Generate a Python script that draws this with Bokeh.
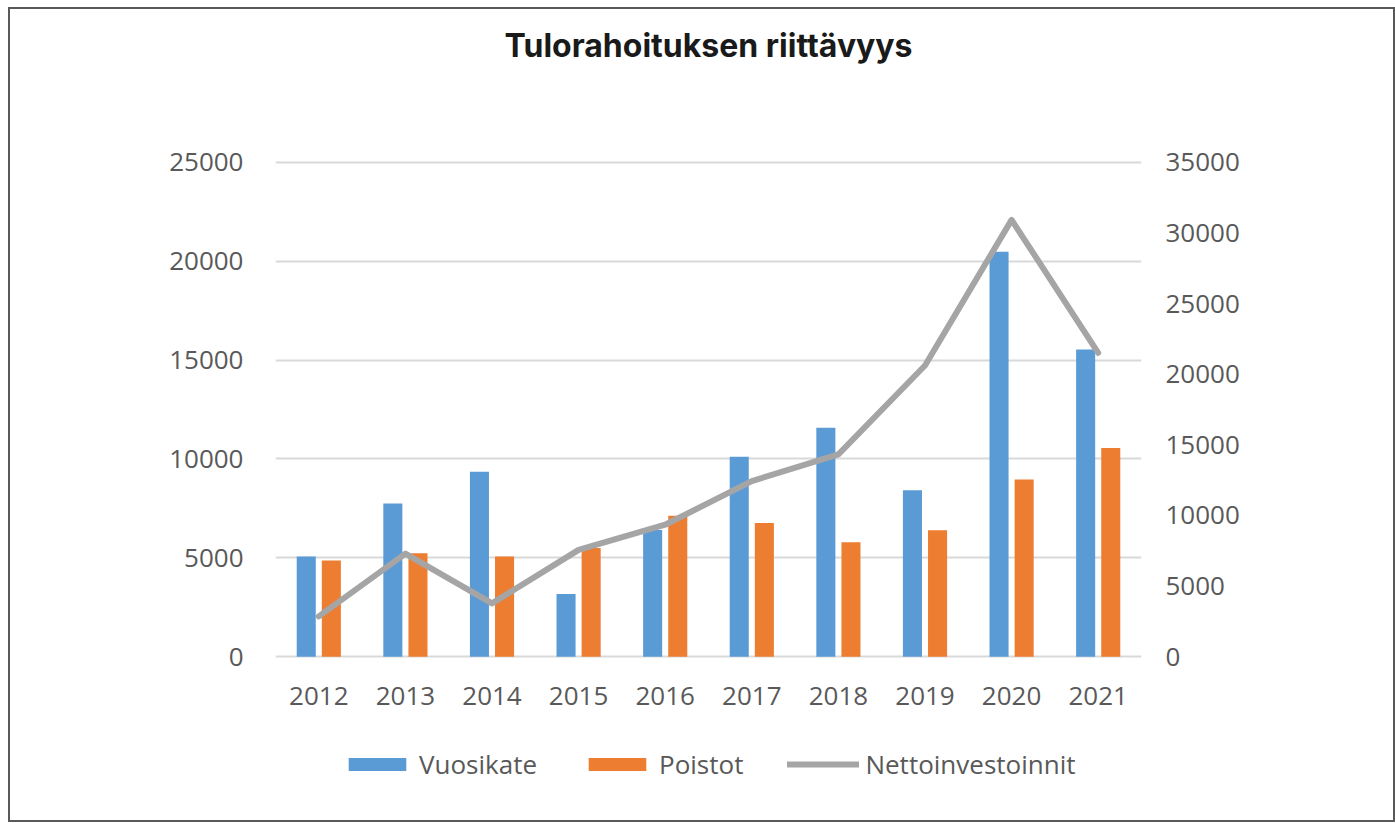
from bokeh.plotting import figure
from bokeh.models import (Range1d, LinearAxis, FixedTicker, NumeralTickFormatter,
                          Legend, LegendItem, ColumnDataSource, Label)
from bokeh.core.properties import value
from bokeh.transform import dodge
from bokeh.embed import file_html
from bokeh.resources import INLINE

years = ["2012", "2013", "2014", "2015", "2016", "2017", "2018", "2019", "2020", "2021"]
vuosikate = [5070, 7740, 9350, 3170, 6400, 10110, 11570, 8420, 20480, 15530]
poistot = [4860, 5230, 5070, 5490, 7130, 6760, 5780, 6390, 8960, 10550]
nettoinvestoinnit = [2850, 7300, 3770, 7560, 9340, 12430, 14320, 20610, 30920, 21510]
left_ticks = [0, 5000, 10000, 15000, 20000, 25000]
right_ticks = [0, 5000, 10000, 15000, 20000, 25000, 30000, 35000]

src = ColumnDataSource(dict(years=years, vuosikate=vuosikate, poistot=poistot,
                            netto=nettoinvestoinnit, base=[0] * len(years)))

FONT = "Open Sans"
TXT = "#595959"

# pixel geometry (content area starts at y=9 on page)
FRAME_TOP, ZERO_Y, TOP_Y, FRAME_BOT = 9, 653, 161, 820
lpx = (ZERO_Y - TOP_Y) / left_ticks[-1]
rpx = (ZERO_Y - TOP_Y) / right_ticks[-1]

p = figure(x_range=years,
           y_range=Range1d(-(FRAME_BOT - ZERO_Y) / lpx, (ZERO_Y - FRAME_TOP) / lpx),
           width=1387, height=815,
           output_backend="svg", toolbar_location=None,
           min_border_left=265, min_border_right=256, min_border_top=0,
           min_border_bottom=0)
p.outline_line_color = None
p.background_fill_color = "white"
p.border_fill_color = "white"
p.styles = {"border": "2px solid #595959", "box-sizing": "border-box",
            "margin-left": "8px", "margin-top": "7px"}

p.extra_y_ranges = {"right": Range1d(-(FRAME_BOT - ZERO_Y) / rpx, (ZERO_Y - FRAME_TOP) / rpx)}

b1 = p.vbar(x=dodge("years", -0.145, range=p.x_range), top="vuosikate", width=0.22,
            source=src, fill_color="#5B9BD5", line_color=None)
b2 = p.vbar(x=dodge("years", 0.145, range=p.x_range), top="poistot", width=0.22,
            source=src, fill_color="#ED7D31", line_color=None)
ln = p.line(x="years", y="netto", source=src, y_range_name="right",
            line_color="#A5A5A5", line_width=6, line_join="round", line_cap="round")

# category labels under the zero line
p.text(x="years", y="base", text="years", source=src, y_offset=39,
       text_align="center", text_baseline="middle",
       text_font=value(FONT), text_font_size="26px", text_color=TXT)

# axes
p.xaxis.visible = False
p.yaxis.ticker = FixedTicker(ticks=left_ticks)
p.yaxis.formatter = NumeralTickFormatter(format="0")
ra = LinearAxis(y_range_name="right", ticker=FixedTicker(ticks=right_ticks),
                formatter=NumeralTickFormatter(format="0"))
p.add_layout(ra, "right")

for ax in [p.yaxis[0], ra]:
    ax.axis_line_color = None
    ax.major_tick_line_color = None
    ax.minor_tick_line_color = None
    ax.major_label_text_font = FONT
    ax.major_label_text_font_size = "26px"
    ax.major_label_text_color = TXT
p.yaxis[0].major_label_standoff = 26
ra.major_label_standoff = 18

p.xgrid.grid_line_color = None
p.ygrid.ticker = FixedTicker(ticks=left_ticks)
p.ygrid.grid_line_color = "#D9D9D9"
p.ygrid.grid_line_width = 2

# title
title = Label(x=len(years) / 2, y=(ZERO_Y - 45) / lpx, text="Tulorahoituksen riittävyys",
              text_align="center", text_baseline="middle",
              text_font="Inter", text_font_size="32px", text_font_style="bold",
              text_color="#1a1a1a")
p.add_layout(title)

legend = Legend(items=[LegendItem(label="Vuosikate", renderers=[b1]),
                       LegendItem(label="Poistot", renderers=[b2]),
                       LegendItem(label="Nettoinvestoinnit", renderers=[ln])],
                orientation="horizontal", location=(66, 42),
                glyph_width=72, glyph_height=16, label_standoff=6, spacing=44,
                padding=0, margin=0, border_line_color=None,
                background_fill_alpha=0,
                label_text_font=FONT, label_text_font_size="26px",
                label_text_color=TXT)
p.add_layout(legend, "center")

open("out.html", "w").write(file_html(p, INLINE))
